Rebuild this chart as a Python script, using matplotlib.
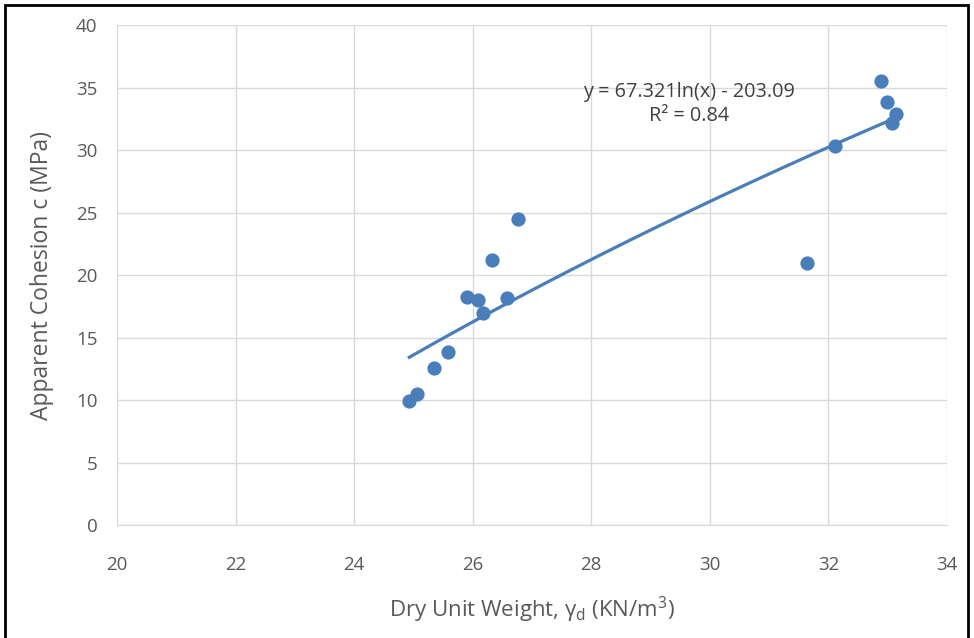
import numpy as np
import matplotlib
matplotlib.use("Agg")
import matplotlib.pyplot as plt
from matplotlib.patches import Rectangle

dry_unit_weight = [24.93, 25.06, 25.35, 25.58, 25.90, 26.09, 26.17, 26.32, 26.58, 26.76,
                   31.64, 32.11, 32.89, 32.99, 33.14, 33.07]
cohesion = [9.9, 10.45, 12.55, 13.85, 18.25, 18.0, 16.95, 21.2, 18.15, 24.45,
            20.95, 30.3, 35.5, 33.85, 32.85, 32.15]
fit_a, fit_b = 67.321, -203.09
x_ticks = [20, 22, 24, 26, 28, 30, 32, 34]
y_ticks = [0, 5, 10, 15, 20, 25, 30, 35, 40]

plt.rcParams['font.family'] = ['Open Sans', 'DejaVu Sans']
plt.rcParams['mathtext.fontset'] = 'custom'
plt.rcParams['mathtext.rm'] = 'Open Sans'
fig = plt.figure(figsize=(9.74, 6.38), dpi=100)
ax = fig.add_axes([0.1201, 0.1771, 0.8522, 0.7837])

color = '#4a7ebb'
xs = np.linspace(min(dry_unit_weight), max(dry_unit_weight), 200)
ax.plot(xs, fit_a * np.log(xs) + fit_b, color=color, lw=2.3, zorder=3)
ax.scatter(dry_unit_weight, cohesion, s=105, color=color, zorder=4, linewidths=0)

ax.set_xlim(20, 34)
ax.set_ylim(0, 40)
ax.set_xticks(x_ticks)
ax.set_yticks(y_ticks)
ax.grid(True, color='#d9d9d9', lw=1)
ax.set_axisbelow(True)
for s in ['top', 'right', 'left']:
    ax.spines[s].set_visible(False)
ax.spines['bottom'].set_color('#d9d9d9')
ax.tick_params(length=0, labelsize=13.5, colors='#595959')
ax.tick_params(axis='y', pad=14)
ax.tick_params(axis='x', pad=22)

ax.set_xlabel('Dry Unit Weight, γ$_\\mathrm{d}$ (KN/m$^\\mathrm{3}$)', fontsize=16, color='#595959', labelpad=15)
ax.set_ylabel('Apparent Cohesion c (MPa)', fontsize=16.5, color='#595959', labelpad=16)

ax.text(29.65, 33.7, 'y = 67.321ln(x) - 203.09\nR² = 0.84', fontsize=14.3, color='#404040',
        ha='center', va='center', linespacing=1.25)

fig.patches.append(Rectangle((5/974, -0.01), 963/974, 1 - 5/638 + 0.01, transform=fig.transFigure,
                             fill=False, edgecolor='black', lw=2))
fig.savefig('out.png', dpi=100)
